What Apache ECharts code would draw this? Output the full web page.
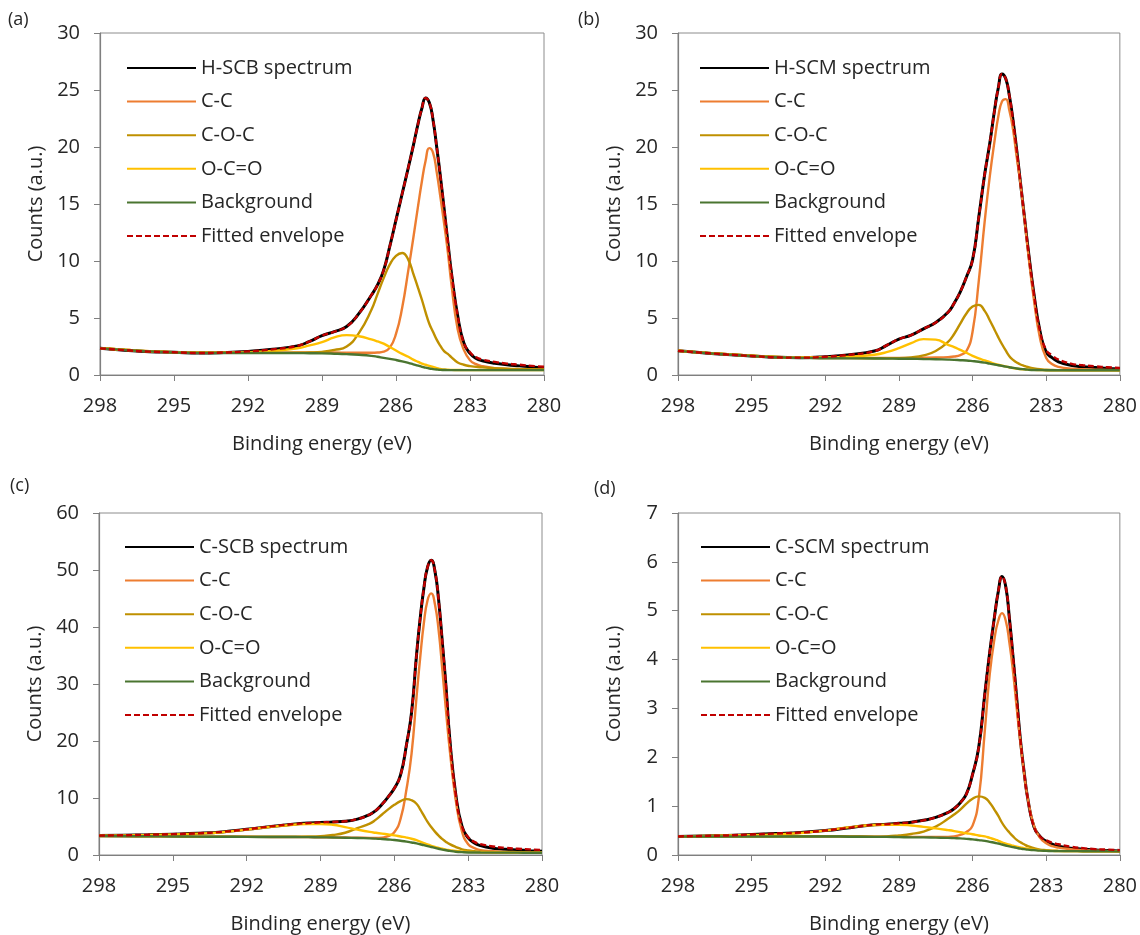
<!DOCTYPE html>
<html><head><meta charset="utf-8">
<script src="https://cdn.jsdelivr.net/npm/echarts@6/dist/echarts.min.js"></script>
<style>html,body{margin:0;padding:0;background:#fff}#c{width:1140px;height:935px}</style>
</head><body><div id="c"></div>
<script>
// Binding energy grid (eV)
const X = [298, 297, 296, 295, 294, 293, 292, 291, 290, 289.5, 289, 288.5, 288, 287.5, 287, 286.75, 286.5, 286.25, 286, 285.75, 285.5, 285.3, 285.1, 284.95, 284.8, 284.65, 284.5, 284.35, 284.2, 284.05, 283.9, 283.75, 283.5, 283.25, 283, 282.75, 282.5, 282, 281.5, 281, 280.5, 280];
const X_TICKS = [298, 295, 292, 289, 286, 283, 280];

// (a) H-SCB
const A_SPEC = [2.34, 2.18, 2.05, 2.0, 1.93, 1.97, 2.07, 2.25, 2.55, 2.95, 3.45, 3.8, 4.25, 5.4, 7.0, 7.9, 9.2, 11.3, 13.6, 15.9, 18.2, 20.1, 22.1, 23.4, 24.3, 23.9, 22.4, 20.0, 17.4, 14.6, 11.7, 8.9, 5.2, 2.8, 1.9, 1.45, 1.25, 1.03, 0.9, 0.8, 0.7, 0.62];
const A_CC = [2.35, 2.21, 2.08, 2.0, 1.96, 1.95, 1.96, 1.96, 1.97, 1.97, 1.97, 1.97, 1.96, 1.95, 1.95, 1.97, 2.05, 2.4, 3.6, 5.9, 9.2, 12.0, 14.9, 17.0, 18.8, 19.9, 19.5, 17.8, 15.6, 13.3, 10.8, 7.9, 4.0, 2.2, 1.3, 0.95, 0.78, 0.6, 0.53, 0.5, 0.48, 0.47];
const A_COC = [2.35, 2.21, 2.08, 2.0, 1.95, 1.94, 1.94, 1.94, 1.95, 1.97, 2.03, 2.2, 2.5, 3.7, 5.7, 7.1, 8.5, 9.7, 10.45, 10.7, 10.1, 8.9, 7.6, 6.6, 5.5, 4.5, 3.8, 3.1, 2.55, 2.1, 1.85, 1.55, 1.1, 0.9, 0.78, 0.72, 0.67, 0.6, 0.55, 0.52, 0.5, 0.48];
const A_OCO = [2.35, 2.21, 2.08, 2.0, 1.96, 1.96, 2.0, 2.1, 2.35, 2.6, 2.88, 3.3, 3.5, 3.4, 3.12, 2.95, 2.75, 2.45, 2.15, 1.85, 1.6, 1.35, 1.15, 1.0, 0.9, 0.8, 0.7, 0.6, 0.53, 0.48, 0.46, 0.45, 0.44, 0.43, 0.43, 0.43, 0.43, 0.43, 0.43, 0.43, 0.43, 0.43];
const A_BG = [2.34, 2.2, 2.07, 1.98, 1.94, 1.93, 1.93, 1.93, 1.92, 1.91, 1.9, 1.87, 1.83, 1.77, 1.68, 1.6, 1.5, 1.42, 1.32, 1.2, 1.06, 0.94, 0.82, 0.72, 0.64, 0.57, 0.52, 0.48, 0.45, 0.44, 0.43, 0.43, 0.43, 0.43, 0.43, 0.43, 0.43, 0.43, 0.43, 0.43, 0.43, 0.43];
const A_ENV = [2.34, 2.18, 2.05, 2.0, 1.93, 1.97, 2.07, 2.25, 2.55, 2.95, 3.45, 3.8, 4.25, 5.4, 7.0, 7.9, 9.2, 11.3, 13.6, 15.9, 18.2, 20.1, 22.1, 23.4, 24.3, 23.9, 22.4, 20.0, 17.4, 14.6, 11.7, 8.9, 5.2, 2.8, 2.0, 1.55, 1.35, 1.15, 1.0, 0.9, 0.8, 0.72];

// (b) H-SCM
const B_SPEC = [2.12, 1.95, 1.8, 1.67, 1.55, 1.52, 1.6, 1.78, 2.1, 2.6, 3.15, 3.5, 4.05, 4.6, 5.5, 6.3, 7.3, 8.6, 10.1, 13.8, 17.7, 20.3, 23.3, 25.2, 26.4, 26.0, 24.5, 22.3, 19.7, 16.9, 14.1, 11.3, 7.1, 3.8, 2.0, 1.5, 1.15, 0.85, 0.72, 0.65, 0.58, 0.52];
const B_CC = [2.13, 1.96, 1.82, 1.69, 1.58, 1.52, 1.5, 1.5, 1.5, 1.5, 1.5, 1.5, 1.51, 1.53, 1.57, 1.62, 1.75, 2.1, 3.8, 8.2, 13.6, 17.4, 20.6, 22.7, 24.0, 24.2, 23.2, 21.5, 19.1, 16.8, 14.0, 11.0, 6.6, 3.2, 1.5, 0.95, 0.72, 0.55, 0.5, 0.47, 0.45, 0.44];
const B_COC = [2.13, 1.96, 1.82, 1.69, 1.58, 1.52, 1.49, 1.48, 1.47, 1.47, 1.48, 1.55, 1.72, 2.1, 2.9, 3.6, 4.5, 5.4, 6.0, 6.15, 5.6, 4.8, 3.95, 3.3, 2.7, 2.15, 1.65, 1.33, 1.1, 0.92, 0.8, 0.7, 0.58, 0.5, 0.46, 0.44, 0.43, 0.42, 0.42, 0.42, 0.42, 0.42];
const B_OCO = [2.13, 1.96, 1.82, 1.69, 1.58, 1.53, 1.54, 1.6, 1.78, 2.0, 2.35, 2.8, 3.15, 3.1, 2.65, 2.45, 2.2, 1.95, 1.68, 1.45, 1.28, 1.13, 0.98, 0.9, 0.82, 0.75, 0.68, 0.61, 0.56, 0.52, 0.5, 0.48, 0.45, 0.43, 0.42, 0.42, 0.42, 0.42, 0.42, 0.42, 0.42, 0.42];
const B_BG = [2.12, 1.95, 1.8, 1.67, 1.56, 1.5, 1.47, 1.46, 1.45, 1.44, 1.43, 1.42, 1.4, 1.38, 1.35, 1.33, 1.3, 1.27, 1.22, 1.16, 1.08, 1.0, 0.92, 0.86, 0.8, 0.74, 0.68, 0.62, 0.57, 0.53, 0.5, 0.47, 0.44, 0.43, 0.42, 0.42, 0.42, 0.42, 0.42, 0.42, 0.42, 0.42];
const B_ENV = [2.12, 1.95, 1.8, 1.67, 1.55, 1.52, 1.6, 1.78, 2.1, 2.6, 3.15, 3.5, 4.05, 4.6, 5.5, 6.3, 7.3, 8.6, 10.1, 13.8, 17.7, 20.3, 23.3, 25.2, 26.4, 26.0, 24.5, 22.3, 19.7, 16.9, 14.1, 11.3, 7.1, 3.8, 2.2, 1.7, 1.35, 1.0, 0.85, 0.76, 0.68, 0.62];

// (c) C-SCB
const C_SPEC = [3.4, 3.47, 3.55, 3.66, 3.8, 4.05, 4.5, 5.02, 5.45, 5.6, 5.72, 5.8, 5.92, 6.3, 7.1, 7.8, 8.9, 10.2, 11.7, 14.0, 19.5, 25.0, 35.0, 41.5, 46.8, 50.5, 51.7, 49.8, 44.7, 37.3, 29.5, 20.5, 10.5, 5.0, 3.0, 2.1, 1.65, 1.2, 1.0, 0.88, 0.76, 0.66];
const C_CC = [3.34, 3.31, 3.29, 3.26, 3.23, 3.21, 3.19, 3.17, 3.16, 3.14, 3.11, 3.09, 3.06, 3.03, 3.0, 2.98, 3.05, 3.3, 4.0, 6.3, 11.7, 17.8, 27.6, 34.6, 40.7, 44.7, 45.9, 44.0, 39.4, 32.5, 25.3, 18.5, 9.5, 4.1, 1.9, 1.2, 0.85, 0.65, 0.55, 0.5, 0.46, 0.44];
const C_COC = [3.34, 3.31, 3.29, 3.26, 3.23, 3.21, 3.2, 3.2, 3.21, 3.24, 3.32, 3.5, 3.9, 4.7, 5.5, 6.2, 7.1, 8.0, 8.8, 9.45, 9.8, 9.6, 9.0, 8.0, 6.9, 5.8, 4.9, 4.1, 3.4, 2.8, 2.3, 1.9, 1.4, 1.0, 0.78, 0.65, 0.58, 0.5, 0.46, 0.44, 0.42, 0.41];
const C_OCO = [3.4, 3.45, 3.52, 3.62, 3.75, 4.0, 4.45, 4.95, 5.35, 5.45, 5.45, 5.3, 4.9, 4.45, 4.05, 3.9, 3.75, 3.6, 3.45, 3.25, 3.05, 2.85, 2.6, 2.35, 2.1, 1.85, 1.62, 1.42, 1.25, 1.1, 0.95, 0.85, 0.7, 0.6, 0.55, 0.5, 0.48, 0.45, 0.43, 0.42, 0.41, 0.41];
const C_BG = [3.33, 3.3, 3.28, 3.25, 3.22, 3.2, 3.18, 3.16, 3.15, 3.13, 3.1, 3.07, 3.03, 2.98, 2.92, 2.87, 2.8, 2.72, 2.63, 2.5, 2.35, 2.2, 2.05, 1.88, 1.72, 1.55, 1.4, 1.25, 1.1, 0.95, 0.83, 0.72, 0.58, 0.5, 0.45, 0.44, 0.43, 0.42, 0.41, 0.41, 0.4, 0.4];
const C_ENV = [3.4, 3.47, 3.55, 3.66, 3.8, 4.05, 4.5, 5.02, 5.45, 5.6, 5.72, 5.8, 5.92, 6.3, 7.1, 7.8, 8.9, 10.2, 11.7, 14.0, 19.5, 25.0, 35.0, 41.5, 46.8, 50.5, 51.7, 49.8, 44.7, 37.3, 29.5, 20.5, 10.5, 5.0, 3.1, 2.3, 1.9, 1.5, 1.25, 1.1, 0.98, 0.88];

// (d) C-SCM
const D_SPEC = [0.38, 0.39, 0.4, 0.42, 0.44, 0.46, 0.5, 0.56, 0.62, 0.63, 0.65, 0.67, 0.71, 0.77, 0.87, 0.95, 1.07, 1.25, 1.65, 2.2, 3.3, 4.15, 4.9, 5.4, 5.7, 5.5, 4.85, 4.05, 3.2, 2.35, 1.7, 1.15, 0.58, 0.38, 0.28, 0.22, 0.18, 0.14, 0.12, 0.1, 0.09, 0.08];
const D_CC = [0.385, 0.385, 0.385, 0.385, 0.385, 0.385, 0.385, 0.38, 0.375, 0.375, 0.37, 0.37, 0.37, 0.37, 0.37, 0.38, 0.41, 0.47, 0.6, 1.15, 2.55, 3.7, 4.45, 4.8, 4.95, 4.8, 4.35, 3.75, 3.0, 2.3, 1.68, 1.15, 0.6, 0.35, 0.24, 0.18, 0.15, 0.12, 0.1, 0.09, 0.085, 0.08];
const D_COC = [0.385, 0.385, 0.385, 0.385, 0.385, 0.385, 0.385, 0.38, 0.375, 0.38, 0.4, 0.43, 0.48, 0.58, 0.74, 0.83, 0.93, 1.05, 1.15, 1.2, 1.17, 1.07, 0.92, 0.8, 0.66, 0.55, 0.46, 0.38, 0.31, 0.26, 0.22, 0.18, 0.14, 0.11, 0.1, 0.09, 0.085, 0.08, 0.078, 0.077, 0.076, 0.075];
const D_OCO = [0.38, 0.39, 0.4, 0.41, 0.42, 0.45, 0.5, 0.57, 0.615, 0.62, 0.62, 0.605, 0.575, 0.545, 0.51, 0.49, 0.465, 0.445, 0.425, 0.4, 0.38, 0.35, 0.32, 0.29, 0.26, 0.235, 0.21, 0.19, 0.17, 0.155, 0.14, 0.13, 0.11, 0.1, 0.09, 0.085, 0.08, 0.08, 0.078, 0.077, 0.076, 0.075];
const D_BG = [0.38, 0.38, 0.38, 0.38, 0.38, 0.38, 0.38, 0.375, 0.37, 0.37, 0.365, 0.36, 0.36, 0.355, 0.35, 0.345, 0.34, 0.33, 0.32, 0.305, 0.29, 0.27, 0.25, 0.235, 0.215, 0.195, 0.175, 0.16, 0.145, 0.13, 0.12, 0.11, 0.1, 0.09, 0.085, 0.08, 0.08, 0.08, 0.078, 0.077, 0.076, 0.075];
const D_ENV = [0.38, 0.39, 0.4, 0.42, 0.44, 0.46, 0.5, 0.56, 0.62, 0.63, 0.65, 0.67, 0.71, 0.77, 0.87, 0.95, 1.07, 1.25, 1.65, 2.2, 3.3, 4.15, 4.9, 5.4, 5.7, 5.5, 4.85, 4.05, 3.2, 2.35, 1.7, 1.15, 0.58, 0.38, 0.3, 0.25, 0.22, 0.17, 0.14, 0.12, 0.11, 0.1];

const PANEL_LABELS = ['(a)', '(b)', '(c)', '(d)'];
const SPEC_NAMES = ['H-SCB spectrum', 'H-SCM spectrum', 'C-SCB spectrum', 'C-SCM spectrum'];
const COMP_NAMES = ['C-C', 'C-O-C', 'O-C=O', 'Background', 'Fitted envelope'];
const Y_MAX = [30, 30, 60, 7];
const Y_INT = [5, 5, 10, 1];
const PANEL_DATA = [
  [A_SPEC, A_CC, A_COC, A_OCO, A_BG, A_ENV],
  [B_SPEC, B_CC, B_COC, B_OCO, B_BG, B_ENV],
  [C_SPEC, C_CC, C_COC, C_OCO, C_BG, C_ENV],
  [D_SPEC, D_CC, D_COC, D_OCO, D_BG, D_ENV]
];

// layout / style
const FONT = "'Open Sans', 'Noto Sans', sans-serif";
const TXT = '#262626';
const FS = 20;
const GRIDS = [
  {left: 100, top: 33, width: 444, height: 342},
  {left: 678, top: 33, width: 443, height: 342},
  {left: 99, top: 513, width: 443, height: 342},
  {left: 678, top: 513, width: 443, height: 342}
];
const LEGEND_POS = [[121, 53], [694, 53], [119, 532], [695, 532]];
const LABEL_POS = [[8, 11], [578, 11], [10, 477], [594, 480]];
const STYLES = [
  {color: '#000000', width: 3, type: 'solid'},
  {color: '#ED7D31', width: 2.4, type: 'solid'},
  {color: '#BF9000', width: 2.4, type: 'solid'},
  {color: '#FFC000', width: 2.4, type: 'solid'},
  {color: '#4A7530', width: 2.4, type: 'solid'},
  {color: '#C00000', width: 2.4, type: [6, 3]}
];

const grid = [], xAxis = [], yAxis = [], series = [], legend = [], graphic = [];
for (let p = 0; p < 4; p++) {
  grid.push(Object.assign({show: true, borderColor: '#8c8c8c', borderWidth: 1, backgroundColor: '#fff'}, GRIDS[p]));
  xAxis.push({
    type: 'value', gridIndex: p, min: 280, max: 298, interval: 3, inverse: true,
    name: 'Binding energy (eV)', nameLocation: 'middle', nameGap: 59,
    nameTextStyle: {fontFamily: FONT, fontSize: FS, color: TXT},
    axisLine: {show: true, onZero: false, lineStyle: {color: '#7f7f7f', width: 1.2}},
    axisTick: {show: true, length: 6, customValues: X_TICKS, lineStyle: {color: '#7f7f7f'}},
    axisLabel: {customValues: X_TICKS, margin: 21, fontFamily: FONT, fontSize: FS, color: TXT},
    splitLine: {show: false}
  });
  yAxis.push({
    type: 'value', gridIndex: p, min: 0, max: Y_MAX[p], interval: Y_INT[p],
    name: 'Counts (a.u.)', nameLocation: 'middle', nameGap: 54,
    nameTextStyle: {fontFamily: FONT, fontSize: FS, color: TXT},
    axisLine: {show: true, lineStyle: {color: '#7f7f7f', width: 1.2}},
    axisTick: {show: true, length: 6, lineStyle: {color: '#7f7f7f'}},
    axisLabel: {margin: 20, fontFamily: FONT, fontSize: FS, color: TXT},
    splitLine: {show: false}
  });
  const names = [SPEC_NAMES[p]].concat(COMP_NAMES);
  names.forEach((nm, k) => {
    const arr = PANEL_DATA[p][k];
    series.push({
      type: 'line', name: nm, xAxisIndex: p, yAxisIndex: p,
      data: X.map((x, i) => [x, arr[i]]),
      showSymbol: false, symbol: 'none', smooth: 0.5,
      lineStyle: {color: STYLES[k].color, width: STYLES[k].width, type: STYLES[k].type},
      itemStyle: {color: STYLES[k].color},
      z: 2 + k, silent: true
    });
  });
  legend.push({
    orient: 'vertical', left: LEGEND_POS[p][0], top: LEGEND_POS[p][1],
    data: names, itemWidth: 69, itemHeight: 14, itemGap: 13.6, selectedMode: false,
    itemStyle: {opacity: 0, color: 'rgba(0,0,0,0)', borderWidth: 0},
    textStyle: {fontFamily: FONT, fontSize: FS, color: TXT}
  });
  graphic.push({type: 'text', left: LABEL_POS[p][0], top: LABEL_POS[p][1],
    style: {text: PANEL_LABELS[p], font: '18px ' + FONT, fill: TXT}});
}

const chart = echarts.init(document.getElementById('c'), null, {renderer: 'canvas'});
chart.setOption({animation: false, backgroundColor: '#fff', grid, xAxis, yAxis, series, legend, graphic});
</script>
</body></html>
